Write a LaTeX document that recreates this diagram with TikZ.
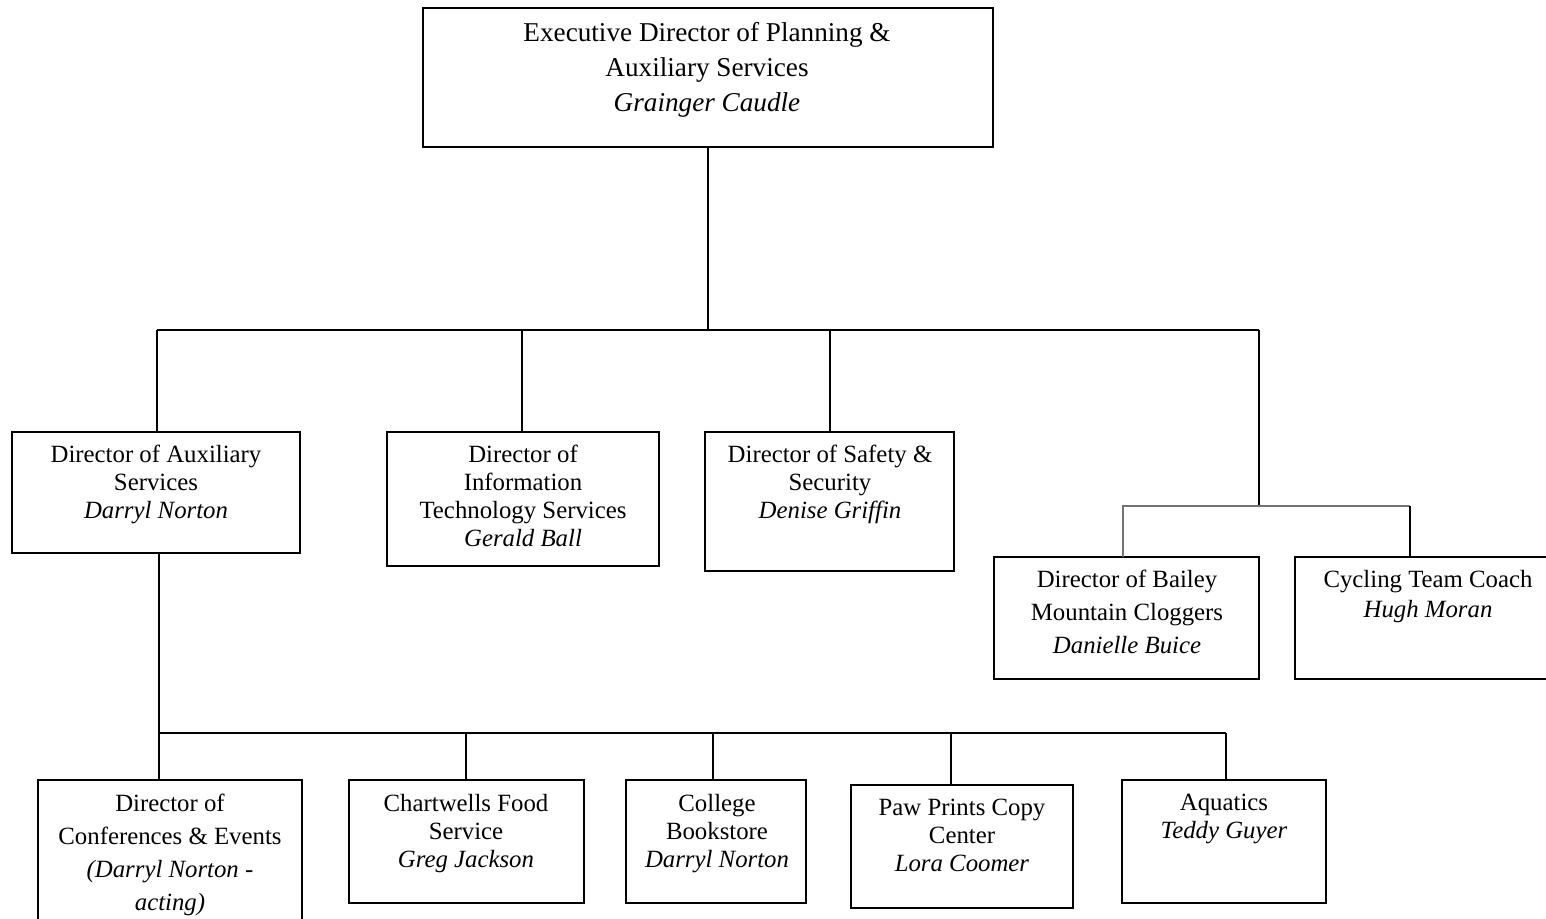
\documentclass[tikz,border=0pt]{standalone}
\usepackage{fontspec}
\setmainfont{Liberation Serif}
\usetikzlibrary{fit}
\tikzset{
  box/.style={draw=black, line width=0.85pt, inner sep=0pt, outer sep=0pt, fill=none},
  txt/.style={align=center, inner sep=0pt, anchor=north, text=black},
  conn/.style={draw=black, line width=0.9pt},
  gconn/.style={draw=black!55, line width=0.9pt},
}
\newcommand{\fs}[1]{\fontsize{12.4}{#1}\selectfont}
\begin{document}
\begin{tikzpicture}[x=0.5pt, y=-0.5pt]
\clip (0,0) rectangle (1546,918);
\fill[white] (0,0) rectangle (1546,918);

% boxes
\node[box, fit={(423,8) (993,147)}] (top) {};
\node[box, fit={(12,432) (300,553)}] (aux) {};
\node[box, fit={(387,432) (659,566)}] (it) {};
\node[box, fit={(705,432) (954,571)}] (safe) {};
\node[box, fit={(994,557) (1259,679)}] (bail) {};
\node[box, fit={(1295,557) (1550,679)}] (cyc) {};
\node[box, fit={(38,780) (302,930)}] (conf) {};
\node[box, fit={(349,780) (584,903)}] (chart) {};
\node[box, fit={(626,780) (806,903)}] (coll) {};
\node[box, fit={(851,785) (1073,908)}] (paw) {};
\node[box, fit={(1122,780) (1326,903)}] (aqua) {};

% texts
\node[txt, font=\fontsize{13.6}{17.5}\selectfont] (topT) at (707,22) {Executive Director of Planning \&\\Auxiliary Services\\\textit{Grainger Caudle}};
\node[txt, font=\fs{14}] (auxT) at (156,445) {Director of Auxiliary\\Services\\\textit{Darryl Norton}};
\node[txt, font=\fs{14}] (itT) at (523,445) {Director of\\Information\\Technology Services\\\textit{Gerald Ball}};
\node[txt, font=\fs{14}] (safeT) at (830,445) {Director of Safety \&\\Security\\\textit{Denise Griffin}};
\node[txt, font=\fs{16.5}] (bailT) at (1127,570) {Director of Bailey\\Mountain Cloggers\\\textit{Danielle Buice}};
\node[txt, font=\fs{15}] (cycT) at (1428,570) {Cycling Team Coach\\\textit{Hugh Moran}};
\node[txt, font=\fs{16.5}] (confT) at (170,794) {Director of\\Conferences \& Events\\\textit{(Darryl Norton -}\\\textit{acting)}};
\node[txt, font=\fs{14}] (chartT) at (466,794) {Chartwells Food\\Service\\\textit{Greg Jackson}};
\node[txt, font=\fs{14}] (collT) at (717,794) {College\\Bookstore\\\textit{Darryl Norton}};
\node[txt, font=\fs{14}] (pawT) at (962,799) {Paw Prints Copy\\Center\\\textit{Lora Coomer}};
\node[txt, font=\fs{14}] (aquaT) at (1224,794) {Aquatics\\\textit{Teddy Guyer}};

% upper bus
\coordinate (u1) at (157,330);
\coordinate (u2) at (522,330);
\coordinate (u3) at (830,330);
\coordinate (u4) at (1259,330);
\coordinate (ub) at (1259,506);
\coordinate (ubl) at (1123,506);
\coordinate (ubr) at (1410,506);
\draw[conn] (top.south) -- (top.south |- u1);
\draw[conn] (u1) -- (u4);
\draw[conn] (u1) -- (u1 |- aux.north);
\draw[conn] (u2) -- (u2 |- it.north);
\draw[conn] (u3) -- (u3 |- safe.north);
\draw[conn] (u4) -- (ub);
\draw[gconn] (ubl |- bail.north) -- (ubl) -- (ubr);
\draw[conn] (ubr) -- (ubr |- cyc.north);

% lower bus
\coordinate (d1) at (159,733);
\coordinate (d2) at (466,733);
\coordinate (d3) at (713,733);
\coordinate (d4) at (951,733);
\coordinate (d5) at (1226,733);
\draw[conn] (d1 |- aux.south) -- (d1);
\draw[conn] (d1) -- (d5);
\draw[conn] (d1) -- (d1 |- conf.north);
\draw[conn] (d2) -- (d2 |- chart.north);
\draw[conn] (d3) -- (d3 |- coll.north);
\draw[conn] (d4) -- (d4 |- paw.north);
\draw[conn] (d5) -- (d5 |- aqua.north);
\end{tikzpicture}
\end{document}
